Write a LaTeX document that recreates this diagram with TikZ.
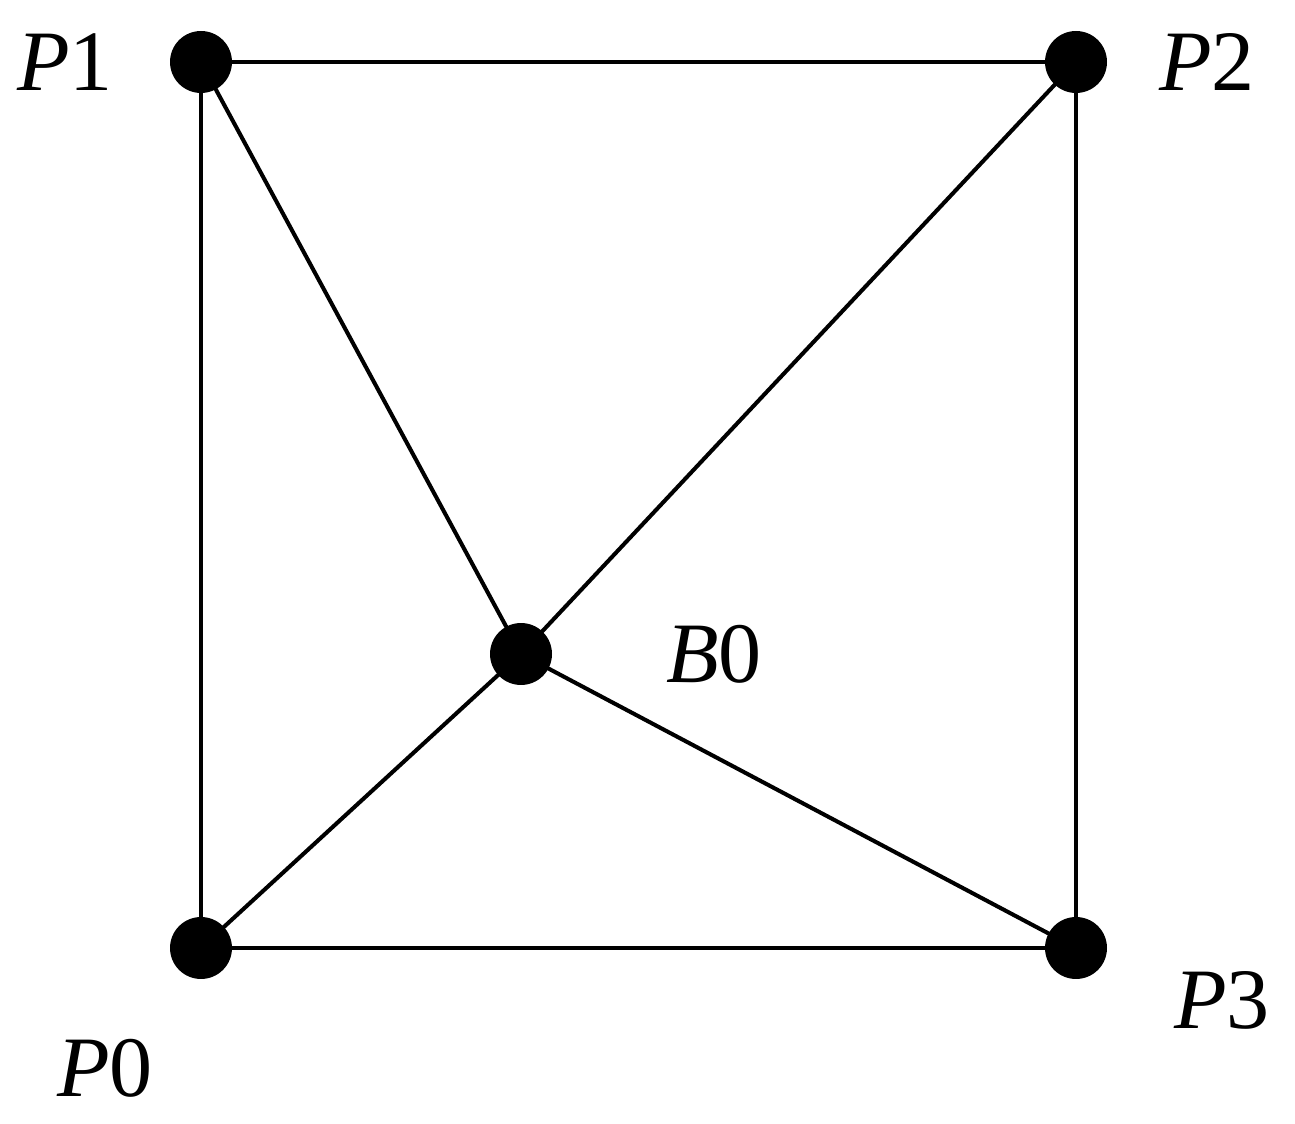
\documentclass[tikz,border=0pt]{standalone}
\usepackage{fontspec}
\setmainfont{Liberation Serif}
\begin{document}
\begin{tikzpicture}[x=0.02cm,y=-0.02cm,
  dot/.style={circle,fill=black,minimum size=1.24cm,inner sep=0pt},
  lbl/.style={font=\fontsize{49}{55}\selectfont,inner sep=0pt},
  edge/.style={line width=2.3pt}]
\useasboundingbox (0,0) rectangle (1295,1124);
\node[dot] (P1) at (201,62) {};
\node[dot] (P2) at (1076,62) {};
\node[dot] (P0) at (201,948) {};
\node[dot] (P3) at (1076,948) {};
\node[dot] (B0) at (521,654) {};
\draw[edge] (P1.center) -- (P2.center) -- (P3.center) -- (P0.center) -- (P1.center);
\draw[edge] (P1.center) -- (B0.center);
\draw[edge] (P2.center) -- (B0.center);
\draw[edge] (P0.center) -- (B0.center);
\draw[edge] (P3.center) -- (B0.center);
\node[lbl] (L1) at (65,62) {\itshape P\upshape 1};
\node[lbl] (L2) at (1207,62) {\itshape P\upshape 2};
\node[lbl] (LB) at (714,654) {\itshape B\upshape 0};
\node[lbl] (L3) at (1222,1000) {\itshape P\upshape 3};
\node[lbl] (L0) at (105,1068) {\itshape P\upshape 0};
\end{tikzpicture}
\end{document}
